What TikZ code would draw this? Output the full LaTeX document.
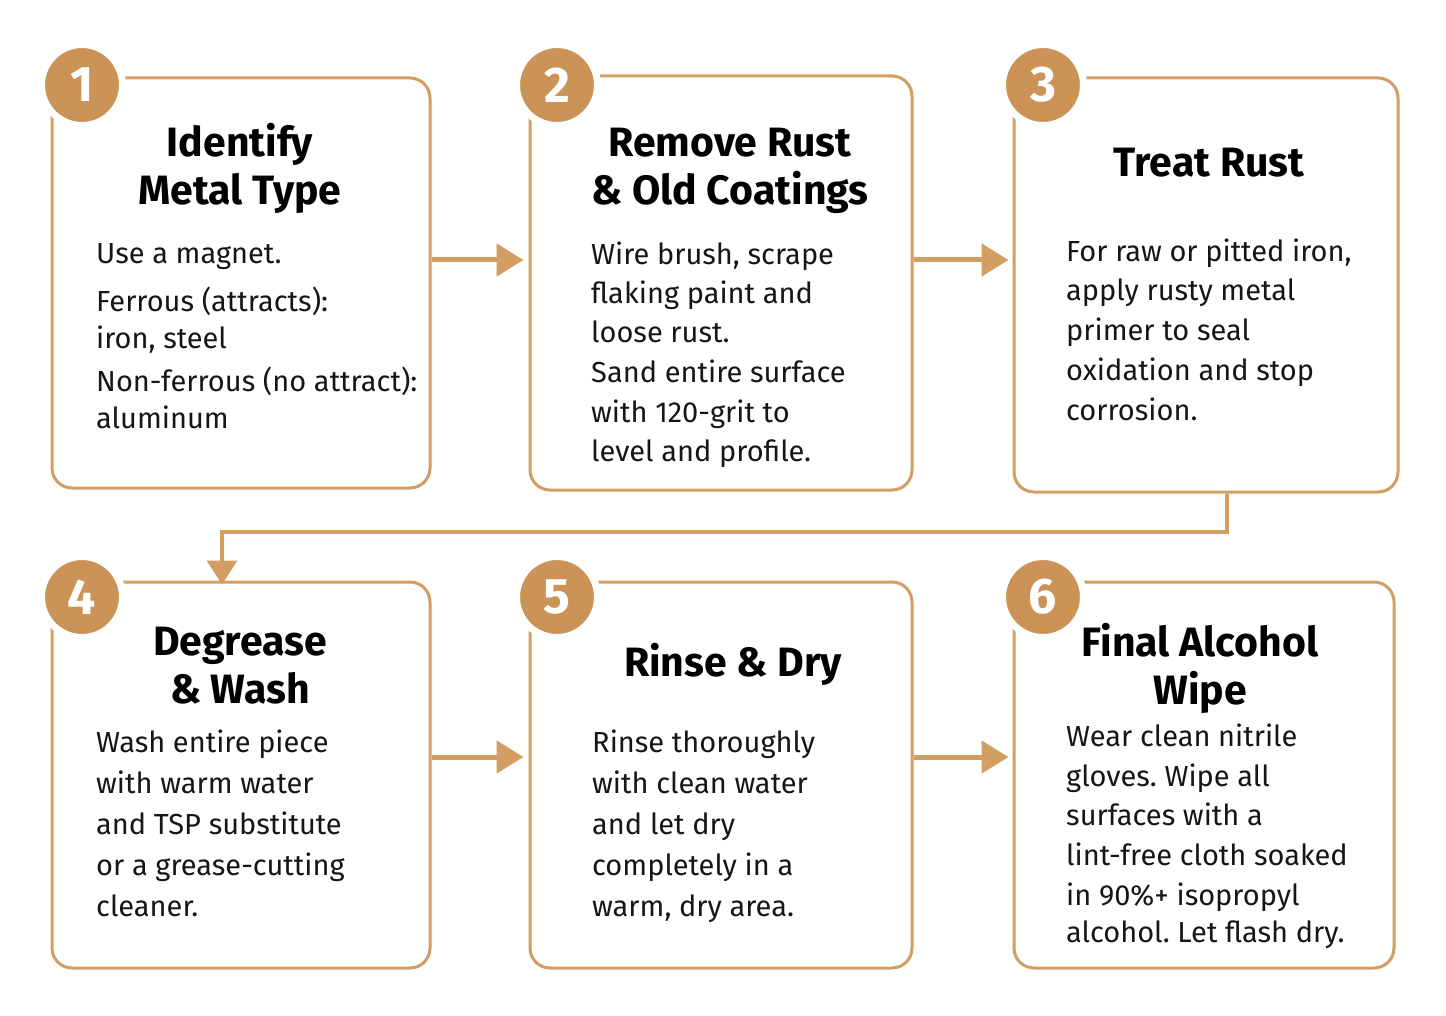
\documentclass[tikz,border=0pt]{standalone}
\usepackage{fontspec}
\setmainfont{Fira Sans}
\usetikzlibrary{arrows.meta}
\frenchspacing
\definecolor{tan}{RGB}{210,158,98}
\definecolor{badgefill}{RGB}{204,147,88}
\definecolor{ink}{RGB}{22,22,22}
\tikzset{>=Triangle,
  stepbox/.style={draw=tan, line width=3pt, rounded corners=20pt, fill=white, inner sep=0},
  badge/.style={circle, fill=badgefill, draw=white, line width=7pt, minimum size=81pt, inner sep=0,
    text=white, font=\fontsize{50}{50}\selectfont\bfseries},
  title/.style={anchor=north, align=center, inner sep=0, text=black, font=\fontsize{41}{48}\selectfont\bfseries},
  body/.style={anchor=north west, align=left, inner sep=0, text=ink, font=\fontsize{29}{40}\selectfont},
  flow/.style={draw=tan, line width=5pt, -{Triangle[length=27pt,width=32pt]}},
  link/.style={draw=tan, line width=3.5pt, -{Triangle[length=24pt,width=30pt]}}
}

\begin{document}
\begin{tikzpicture}[x=1pt,y=-1pt]
  \useasboundingbox[fill=white] (0,0) rectangle (1446,1016);

  % step boxes
  \node[stepbox, minimum width=378pt, minimum height=410pt] (b1) at (241,283) {};
  \node[stepbox, minimum width=382pt, minimum height=414pt] (b2) at (721,283) {};
  \node[stepbox, minimum width=384pt, minimum height=414pt] (b3) at (1206,285) {};
  \node[stepbox, minimum width=378pt, minimum height=386pt] (b4) at (241,775) {};
  \node[stepbox, minimum width=382pt, minimum height=386pt] (b5) at (721,775) {};
  \node[stepbox, minimum width=380pt, minimum height=386pt] (b6) at (1204,775) {};

  % numbers
  \node[badge] (n1) at (82,85) {1};
  \node[badge] (n2) at (557,85) {2};
  \node[badge] (n3) at (1043,85) {3};
  \node[badge] (n4) at (82,597) {4};
  \node[badge] (n5) at (557,597) {5};
  \node[badge] (n6) at (1043,597) {6};

  % titles
  \node[title] (t1) at (240,123) {Identify\\Metal Type};
  \node[title] (t2) at (730,128) {Remove Rust\\\& Old Coatings};
  \node[title] (t3) at (1209,148) {Treat Rust};
  \node[title] (t4) at (240,627) {Degrease\\\& Wash};
  \node[title] (t5) at (733,643) {Rinse \& Dry};
  \node[title] (t6) at (1200,623) {Final Alcohol\\Wipe};

  % texts
  \node[body] (d1) at (96,243) {Use a magnet.\\[8pt]Ferrous (attracts):\\[-3pt]iron, steel\\[3pt]Non-ferrous (no attract):\\[-3pt]aluminum};
  \node[body] (d2) at (591,242) {Wire brush, scrape\\[-1pt]flaking paint and\\[-1pt]loose rust.\\Sand entire surface\\with 120-grit to\\[-1pt]level and profile.};
  \node[body] (d3) at (1066,239) {For raw or pitted iron,\\[-1pt]apply rusty metal\\primer to seal\\oxidation and stop\\corrosion.};
  \node[body] (d4) at (96,730) {Wash entire piece\\[1pt]with warm water\\[1pt]and TSP substitute\\[1pt]or a grease-cutting\\[1pt]cleaner.};
  \node[body] (d5) at (592,730) {Rinse thoroughly\\[1pt]with clean water\\[1pt]and let dry\\[1pt]completely in a\\[1pt]warm, dry area.};
  \node[body] (d6) at (1066,724) {Wear clean nitrile\\gloves. Wipe all\\[-1pt]surfaces with a\\lint-free cloth soaked\\in 90\%+ isopropyl\\[-3pt]alcohol. Let flash dry.};

  % arrows
  \coordinate (r1) at (0,260);
  \coordinate (r2) at (0,757);
  \draw[flow] (b1.east |- r1) -- ([xshift=-5pt]b2.west |- r1);
  \draw[flow] (b2.east |- r1) -- ([xshift=-4pt]b3.west |- r1);
  \draw[flow] (b4.east |- r2) -- ([xshift=-5pt]b5.west |- r2);
  \draw[flow] (b5.east |- r2) -- ([xshift=-4pt]b6.west |- r2);
  \coordinate (turn) at (1227,532);
  \draw[link] (b3.south -| turn) -- (turn) -- (turn -| 222,0) -- ([yshift=-4pt]b4.north -| 222,0);
\end{tikzpicture}
\end{document}
